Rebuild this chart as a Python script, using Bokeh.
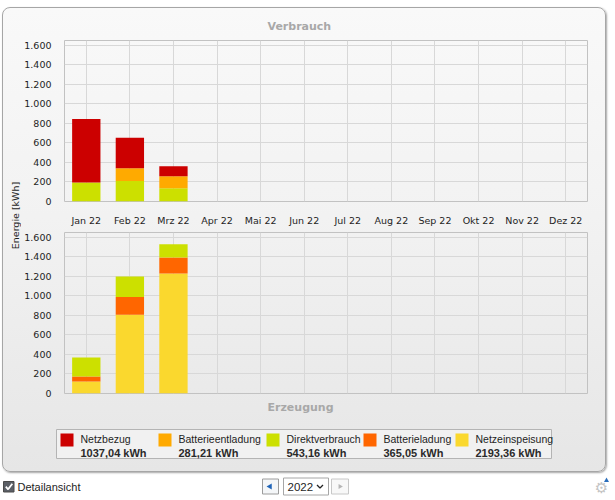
import math
from bokeh.plotting import figure
from bokeh.layouts import column, row
from bokeh.models import ColumnDataSource, Range1d, FixedTicker, CustomJSTickFormatter, Spacer
from bokeh.embed import file_html
from bokeh.resources import INLINE
from bokeh.core.properties import value

# ---------------- data ----------------
months = ["Jan 22", "Feb 22", "Mrz 22", "Apr 22", "Mai 22", "Jun 22",
          "Jul 22", "Aug 22", "Sep 22", "Okt 22", "Nov 22", "Dez 22"]
data_months = ["Jan 22", "Feb 22", "Mrz 22"]

# Verbrauch (consumption)
netzbezug = [650, 312, 103]
batterieentladung = [0, 132, 124]
direktverbrauch = [195, 210, 135]

# Erzeugung (generation)
netzeinspeisung = [123, 806, 1231]
batterieladung = [51, 182, 164]

y_ticks = [0, 200, 400, 600, 800, 1000, 1200, 1400, 1600]

legend_names = ["Netzbezug", "Batterieentladung", "Direktverbrauch",
                "Batterieladung", "Netzeinspeisung"]
legend_totals = ["1037,04 kWh", "281,21 kWh", "543,16 kWh",
                 "365,05 kWh", "2193,36 kWh"]

# ---------------- styles ----------------
C_NETZ = "#cc0000"
C_BENT = "#ffaa00"
C_DIREKT = "#cce000"
C_BLAD = "#ff6600"
C_EINS = "#fad82e"
legend_colors = [C_NETZ, C_BENT, C_DIREKT, C_BLAD, C_EINS]

TICK_FONT = "DejaVu Sans"
TXT = "#1e1e1e"
GRID = "#d8d8d8"

fmt = CustomJSTickFormatter(code="""
const s = Math.round(tick).toString();
return s.replace(/\\B(?=(\\d{3})+(?!\\d))/g, '.');
""")

YL_W = 18


def make_chart(height, mb_top, mb_bottom):
    p = figure(x_range=months, y_range=Range1d(0, 1650), width=602 - YL_W, height=height,
               output_backend="svg", toolbar_location=None,
               min_border_left=41, min_border_right=18,
               min_border_top=mb_top, min_border_bottom=mb_bottom,
               background_fill_color=None, border_fill_color=None,
               outline_line_color="#c2c2c2")
    p.yaxis.ticker = FixedTicker(ticks=y_ticks)
    p.yaxis.formatter = fmt
    p.yaxis.axis_line_color = None
    p.yaxis.major_tick_line_color = None
    p.yaxis.minor_tick_line_color = None
    p.yaxis.major_label_standoff = 7
    p.yaxis.major_label_text_font = TICK_FONT
    p.yaxis.major_label_text_font_size = "9.5px"
    p.yaxis.major_label_text_color = TXT
    p.xaxis.axis_line_color = None
    p.xaxis.major_tick_line_color = None
    p.xaxis.minor_tick_line_color = None
    p.xaxis.major_label_standoff = 7
    p.xaxis.major_label_text_font = TICK_FONT
    p.xaxis.major_label_text_font_size = "9.5px"
    p.xaxis.major_label_text_color = TXT
    p.xgrid.grid_line_color = GRID
    p.ygrid.grid_line_color = GRID
    p.ygrid.ticker = FixedTicker(ticks=y_ticks)
    p.x_range.range_padding = 0
    return p


def style_title(p, text):
    p.title.text = text
    p.title.align = "left"
    p.title.offset = 203
    p.title.text_font = "DejaVu Sans"
    p.title.text_font_size = "11px"
    p.title.text_font_style = "bold"
    p.title.text_color = "#a8a8a8"


# ---- top chart: Verbrauch ----
src_top = ColumnDataSource(dict(month=data_months, direkt=direktverbrauch,
                                bent=batterieentladung, netz=netzbezug))
p1 = make_chart(220, 32, 27)
p1.vbar_stack(["direkt", "bent", "netz"], x="month", width=0.65, source=src_top,
              color=[C_DIREKT, C_BENT, C_NETZ], line_color=None)
style_title(p1, "Verbrauch")
p1.title.standoff = 15

# ---- bottom chart: Erzeugung ----
src_bot = ColumnDataSource(dict(month=data_months, eins=netzeinspeisung,
                                blad=batterieladung, direkt=direktverbrauch))
p2 = make_chart(190, 4, 24)
p2.vbar_stack(["eins", "blad", "direkt"], x="month", width=0.65, source=src_bot,
              color=[C_EINS, C_BLAD, C_DIREKT], line_color=None)
p2.xaxis.visible = False
p2.title_location = "below"
style_title(p2, "Erzeugung")

# ---- shared y axis label ----
yl = figure(width=YL_W, height=410, x_range=Range1d(0, YL_W), y_range=Range1d(410, 0),
            output_backend="svg", toolbar_location=None, min_border=0,
            x_axis_location=None, y_axis_location=None,
            background_fill_color=None, border_fill_color=None, outline_line_color=None)
yl.grid.visible = False
yl.text(x=[12], y=[207], text=["Energie [kWh]"], angle=math.pi / 2,
        text_align="center", text_baseline="middle",
        text_font=value(TICK_FONT), text_font_size="9.5px", text_color=TXT)

# ---- legend strip ----
lg = figure(width=602, height=53, x_range=Range1d(0, 602), y_range=Range1d(53, 0),
            output_backend="svg", toolbar_location=None, min_border=0,
            x_axis_location=None, y_axis_location=None,
            background_fill_color=None, border_fill_color=None, outline_line_color=None)
lg.grid.visible = False
lg.quad(left=[53], right=[548], top=[11], bottom=[40],
        fill_color="#f1f1f1", line_color="#b4b4b4", line_width=1)
sw_left = [57, 155, 263, 360, 452]
lg.quad(left=sw_left, right=[s + 13 for s in sw_left], top=[15] * 5, bottom=[28] * 5,
        fill_color=legend_colors, line_color=None)
lg.text(x=[s + 20 for s in sw_left], y=[20] * 5, text=legend_names,
        text_baseline="middle", text_font=value("Liberation Sans"),
        text_font_size="10.5px", text_color=TXT)
lg.text(x=[s + 20 for s in sw_left], y=[34.5] * 5, text=legend_totals,
        text_baseline="middle", text_font=value("Liberation Sans"),
        text_font_size="11px", text_font_style="bold", text_color="#2a2a2a")

panel = column(row(yl, column(p1, p2, spacing=0), spacing=0), lg, spacing=0,
               styles={"border": "1px solid #a6a6a6", "border-radius": "8px",
                       "background": "linear-gradient(to bottom, #f9f9f9 0%, #f2f2f2 45%, #e6e6e6 100%)",
                       "box-shadow": "1px 1px 2px rgba(0,0,0,0.35)"})

# ---- controls strip ----
ct = figure(width=615, height=26, x_range=Range1d(0, 615), y_range=Range1d(26, 0),
            output_backend="svg", toolbar_location=None, min_border=0,
            x_axis_location=None, y_axis_location=None,
            background_fill_color=None, border_fill_color=None, outline_line_color=None)
ct.grid.visible = False
ct.quad(left=[3], right=[13.5], top=[9], bottom=[19.5], fill_color="#5b5f66",
        line_color="#4a4a4a")
ct.line(x=[5.3, 7.6, 11.8], y=[14.2, 16.8, 11.3], line_color="white", line_width=1.8)
ct.text(x=[17], y=[14.5], text=["Detailansicht"], text_baseline="middle",
        text_font=value("Liberation Sans"), text_font_size="11px", text_color=TXT)
# year selector
ct.quad(left=[262], right=[278], top=[6.5], bottom=[21.5], fill_color="#f4f6f8",
        line_color="#9c9c9c")
ct.scatter(x=[269.5], y=[14], marker="triangle", size=6, angle=math.pi / 2,
           fill_color="#1f64b8", line_color=None)
ct.quad(left=[283], right=[328], top=[5.5], bottom=[22.5], fill_color="white",
        line_color="#a6a6a6")
ct.text(x=[287], y=[14.5], text=["2022"], text_baseline="middle",
        text_font=value("Liberation Sans"), text_font_size="11.5px", text_color=TXT)
ct.line(x=[316.5, 319.5, 322.5], y=[12.5, 15.5, 12.5], line_color="#222222", line_width=1.3)
ct.quad(left=[331], right=[348], top=[6.5], bottom=[21.5], fill_color="#f8f8f8",
        line_color="#c8c8c8")
ct.scatter(x=[339.5], y=[14], marker="triangle", size=5, angle=-math.pi / 2,
           fill_color="#b5b5b5", line_color=None)
# small settings icon at the right
ct.text(x=[601], y=[15], text=["\u2699"], text_align="center", text_baseline="middle",
        text_font=value("DejaVu Sans"), text_font_size="15px", text_color="#c4c4c4")
ct.scatter(x=[606], y=[8], marker="triangle", size=5, fill_color="#2a6ebb", line_color=None)

page = column(Spacer(height=7, width=10),
              row(Spacer(width=2, height=10), panel, spacing=0),
              ct, spacing=0)

open("out.html", "w").write(file_html(page, INLINE))
